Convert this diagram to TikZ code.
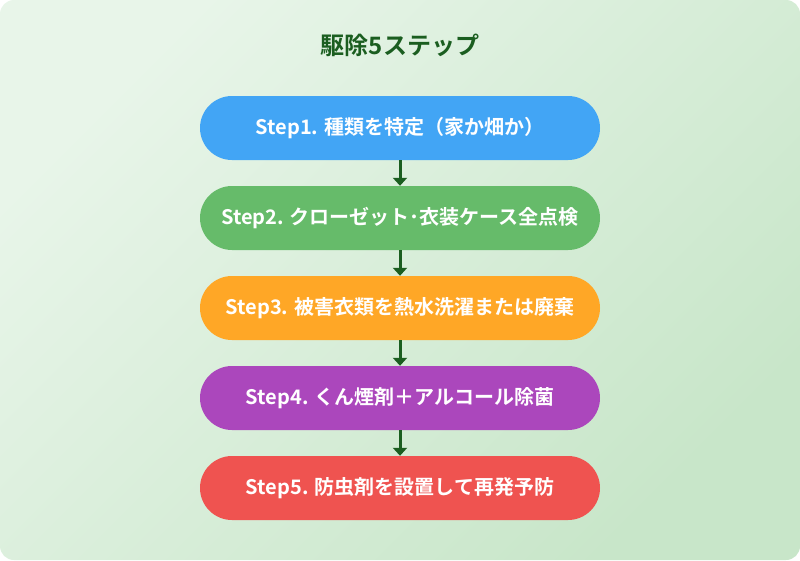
\documentclass[tikz,border=0pt]{standalone}
\usepackage{fontspec}
\setmainfont{Noto Sans CJK JP}[BoldFont={Noto Sans CJK JP Bold}]
\usetikzlibrary{arrows.meta}
\definecolor{bgA}{HTML}{E8F5E9}
\definecolor{bgB}{HTML}{C8E6C9}
\definecolor{titleGreen}{HTML}{1B5E20}
\definecolor{stepBlue}{HTML}{42A5F5}
\definecolor{stepGreen}{HTML}{66BB6A}
\definecolor{stepOrange}{HTML}{FFA726}
\definecolor{stepPurple}{HTML}{AB47BC}
\definecolor{stepRed}{HTML}{EF5350}
\tikzset{
	stepbox/.style={rectangle, rounded corners=32pt, minimum width=400pt, minimum height=64pt, text=white, font=\fontsize{20}{24}\selectfont\bfseries, inner sep=0pt},
	flow/.style={-{Triangle[width=14pt,length=8pt]}, line width=3pt, color=titleGreen}
}
\begin{document}
\begin{tikzpicture}[x=1pt, y=-1pt]
		\path[rounded corners=14pt, top color=bgA, bottom color=bgB, shading angle=45] (0,0) rectangle (800,560);
		\useasboundingbox (0,0) rectangle (800,560);

		\node[font=\fontsize{24}{28}\selectfont\bfseries, text=titleGreen](title) at (400,45){駆除5ステップ};

		\node[stepbox, fill=stepBlue](stepOne) at (400,128){Step1. 種類を特定（家か畑か）};
		\node[stepbox, fill=stepGreen](stepTwo) at (400,218){Step2. クローゼット･衣装ケース全点検};
		\node[stepbox, fill=stepOrange](stepThree) at (400,308){Step3. 被害衣類を熱水洗濯または廃棄};
		\node[stepbox, fill=stepPurple](stepFour) at (400,398){Step4. くん煙剤＋アルコール除菌};
		\node[stepbox, fill=stepRed](stepFive) at (400,488){Step5. 防虫剤を設置して再発予防};

		\draw [flow] (stepOne.south) -- (stepTwo.north);
		\draw [flow] (stepTwo.south) -- (stepThree.north);
		\draw [flow] (stepThree.south) -- (stepFour.north);
		\draw [flow] (stepFour.south) -- (stepFive.north);
	\end{tikzpicture}
\end{document}
